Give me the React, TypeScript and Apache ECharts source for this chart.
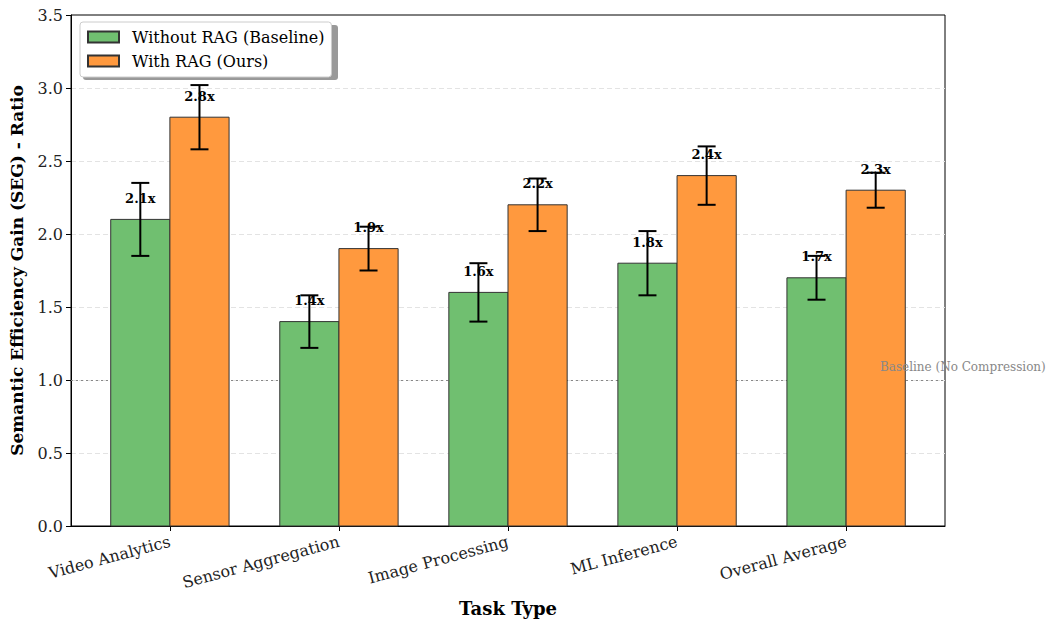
import React, { useEffect, useRef } from "react";
import * as echarts from "echarts";

const categories = [
  "Video Analytics",
  "Sensor Aggregation",
  "Image Processing",
  "ML Inference",
  "Overall Average",
];
const withoutRag = [2.1, 1.4, 1.6, 1.8, 1.7];
const withoutRagErr = [0.25, 0.18, 0.2, 0.22, 0.15];
const withRag = [2.8, 1.9, 2.2, 2.4, 2.3];
const withRagErr = [0.22, 0.15, 0.18, 0.2, 0.12];
const yTicks = [0, 0.5, 1, 1.5, 2, 2.5, 3, 3.5];
const baselineValue = 1.0;

const FONT = '"DejaVu Serif", serif';
const BAR_W = 0.35;

function barSeries(name: string, values: number[], errs: number[], color: string, offset: number) {
  return {
    name,
    type: "custom",
    clip: false,
    z: 3,
    itemStyle: { color, borderColor: "#333", borderWidth: 1 },
    data: values.map((v, i) => [i, v, errs[i]]),
    encode: { x: 0, y: 1 },
    renderItem: (_p: any, api: any) => {
      const xc = api.value(0) + offset;
      const v = api.value(1);
      const e = api.value(2);
      const [cx, top] = api.coord([xc, v]);
      const base = api.coord([xc, 0])[1];
      const w = api.size([BAR_W, 0])[0];
      const eTop = api.coord([xc, v + e])[1];
      const eBot = api.coord([xc, v - e])[1];
      const lblY = api.coord([xc, v + 0.1])[1];
      const cap = 9;
      return {
        type: "group",
        children: [
          {
            type: "rect",
            shape: { x: cx - w / 2, y: top, width: w, height: base - top },
            style: { fill: color, stroke: "#333", lineWidth: 1 },
          },
          {
            type: "text",
            x: cx,
            y: lblY,
            style: {
              text: v.toFixed(1) + "x",
              align: "center",
              verticalAlign: "bottom",
              font: `bold 13px ${FONT}`,
              fill: "#000",
            },
          },
          {
            type: "line",
            shape: { x1: cx, y1: eTop, x2: cx, y2: eBot },
            style: { stroke: "#000", lineWidth: 2 },
          },
          {
            type: "line",
            shape: { x1: cx - cap, y1: eTop, x2: cx + cap, y2: eTop },
            style: { stroke: "#000", lineWidth: 2 },
          },
          {
            type: "line",
            shape: { x1: cx - cap, y1: eBot, x2: cx + cap, y2: eBot },
            style: { stroke: "#000", lineWidth: 2 },
          },
        ],
      };
    },
  };
}

export default function App() {
  const ref = useRef<HTMLDivElement>(null);

  useEffect(() => {
    if (!ref.current) return;
    const chart = echarts.init(ref.current, undefined, { renderer: "svg" });
    const option: any = {
      animation: false,
      backgroundColor: "#fff",
      textStyle: { fontFamily: FONT },
      grid: {
        left: 71,
        right: 101,
        top: 15,
        bottom: 97,
        outerBoundsMode: "none",
        containLabel: false,
        show: true,
        borderColor: "#000",
        borderWidth: 1,
        backgroundColor: "transparent",
      },
      legend: {
        left: 80,
        top: 22,
        z: 10,
        orient: "vertical",
        icon: "rect",
        itemWidth: 31,
        itemHeight: 11,
        itemGap: 6,
        padding: [6, 7, 7, 7],
        backgroundColor: "#fff",
        borderColor: "#ccc",
        borderWidth: 1,
        borderRadius: 3,
        textStyle: {
          fontFamily: FONT,
          fontSize: 16,
          lineHeight: 18,
          color: "#000",
          padding: [0, 0, 0, 8],
        },
        data: ["Without RAG (Baseline)", "With RAG (Ours)"],
      },
      graphic: [
        {
          type: "rect",
          left: 83,
          top: 25,
          z: 1,
          shape: { width: 255, height: 55, r: 3 },
          style: { fill: "#999" },
        },
      ],
      xAxis: {
        type: "value",
        min: -0.585,
        max: 4.585,
        name: "Task Type",
        nameLocation: "middle",
        nameGap: 73,
        nameTextStyle: { fontFamily: FONT, fontSize: 18, fontWeight: "bold", color: "#000" },
        axisLine: { show: true, onZero: false, lineStyle: { color: "#000", width: 1 } },
        axisTick: {
          show: true,
          customValues: categories.map((_, i) => i),
          length: 5,
          lineStyle: { color: "#000" },
        },
        axisLabel: {
          customValues: categories.map((_, i) => i),
          formatter: (v: number) => categories[Math.round(v)] ?? "",
          rotate: 15,
          margin: 15,
          fontFamily: FONT,
          fontSize: 16,
          color: "#222",
        },
        splitLine: { show: false },
      },
      yAxis: {
        type: "value",
        min: yTicks[0],
        max: yTicks[yTicks.length - 1],
        interval: 0.5,
        name: "Semantic Efficiency Gain (SEG) - Ratio",
        nameLocation: "middle",
        nameGap: 46,
        nameTextStyle: { fontFamily: FONT, fontSize: 17, fontWeight: "bold", color: "#000" },
        axisLine: { show: true, onZero: false, lineStyle: { color: "#000", width: 1 } },
        axisTick: { show: true, length: 5, lineStyle: { color: "#000" } },
        axisLabel: {
          formatter: (v: number) => v.toFixed(1),
          fontFamily: FONT,
          fontSize: 16,
          color: "#222",
          margin: 8,
        },
        splitLine: {
          show: true,
          showMinLine: false,
          showMaxLine: false,
          lineStyle: { color: "#e3e3e3", type: [5, 3], width: 1 },
        },
      },
      series: [
        barSeries("Without RAG (Baseline)", withoutRag, withoutRagErr, "#70bf70", -BAR_W / 2),
        barSeries("With RAG (Ours)", withRag, withRagErr, "#ff993e", BAR_W / 2),
        {
          name: "baseline",
          type: "custom",
          clip: false,
          silent: true,
          z: 5,
          data: [[4.2, baselineValue]],
          encode: { x: 0, y: 1 },
          renderItem: (_p: any, api: any) => {
            const [x, y] = api.coord([api.value(0), api.value(1) + 0.05]);
            return {
              type: "text",
              x,
              y,
              style: {
                text: "Baseline (No Compression)",
                align: "left",
                verticalAlign: "bottom",
                font: `12px ${FONT}`,
                fill: "#888",
              },
            };
          },
          markLine: {
            silent: true,
            symbol: "none",
            z: 2,
            label: { show: false },
            lineStyle: { color: "#888", type: [2, 3], width: 1.2 },
            data: [{ yAxis: baselineValue }],
          },
        },
      ],
    };
    chart.setOption(option);
    return () => chart.dispose();
  }, []);

  return (
    <div
      ref={ref}
      style={{ position: "fixed", left: 0, top: 0, width: 1046, height: 623 }}
    />
  );
}
